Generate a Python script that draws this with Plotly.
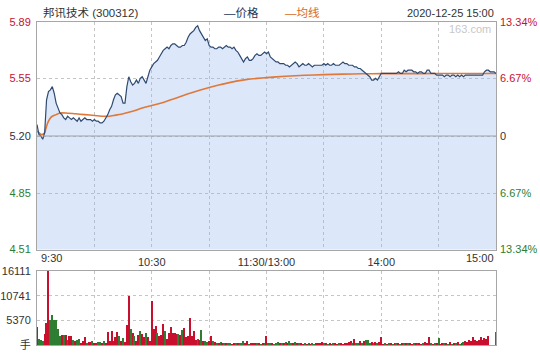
import plotly.graph_objects as go

# ---------------- data ----------------
STOCK_NAME = "邦讯技术"
STOCK_CODE = "300312"
DATE_TEXT = "2020-12-25 15:00"
PREV_CLOSE = 5.20

price_ticks = [4.51, 4.85, 5.20, 5.55, 5.89]
price_tick_text = ["4.51", "4.85", "5.20", "5.55", "5.89"]
pct_tick_text = ["13.34%", "6.67%", "0", "6.67%", "13.34%"]

vol_ticks = [0, 5370, 10741, 16111]
vol_tick_text = ["手", "5370", "10741", "16111"]

time_ticks = [0, 30, 60, 90, 120, 150, 180, 210, 240]
time_labels = ["9:30", "", "10:30", "", "11:30/13:00", "", "14:00", "", "15:00"]

# minute-by-minute price, 9:30..11:30 (121) + 13:01..15:00 (120)
price = [
    5.27, 5.21, 5.20, 5.18, 5.22, 5.42, 5.47, 5.48, 5.50, 5.46,
    5.40, 5.37, 5.34, 5.33, 5.31, 5.30, 5.32, 5.31, 5.30, 5.31,
    5.30, 5.29, 5.31, 5.29, 5.30, 5.31, 5.30, 5.30, 5.30, 5.29,
    5.30, 5.29, 5.29, 5.28, 5.28, 5.29, 5.31, 5.33, 5.36, 5.38,
    5.42, 5.45, 5.46, 5.45, 5.44, 5.40, 5.40, 5.50, 5.56, 5.53,
    5.51, 5.52, 5.54, 5.52, 5.55, 5.56, 5.54, 5.52, 5.56, 5.60,
    5.62, 5.64, 5.65, 5.66, 5.68, 5.70, 5.72, 5.73, 5.74, 5.73,
    5.75, 5.76, 5.76, 5.75, 5.74, 5.74, 5.75, 5.75, 5.77, 5.80,
    5.82, 5.83, 5.84, 5.86, 5.87, 5.84, 5.82, 5.80, 5.78, 5.79,
    5.75, 5.74, 5.74, 5.73, 5.73, 5.74, 5.74, 5.73, 5.74, 5.75,
    5.74, 5.74, 5.73, 5.74, 5.72, 5.71, 5.69, 5.67, 5.65, 5.67,
    5.68, 5.66, 5.66, 5.67, 5.69, 5.70, 5.69, 5.69, 5.70, 5.71, 5.70,
    5.71, 5.68, 5.67, 5.66, 5.65, 5.65, 5.64, 5.64, 5.64, 5.63,
    5.63, 5.62, 5.63, 5.64, 5.65, 5.64, 5.62, 5.63, 5.64, 5.63,
    5.63, 5.64, 5.63, 5.62, 5.63, 5.63, 5.63, 5.63, 5.63, 5.64,
    5.63, 5.64, 5.63, 5.63, 5.64, 5.63, 5.63, 5.63, 5.64, 5.65,
    5.64, 5.64, 5.63, 5.63, 5.63, 5.62, 5.62, 5.61, 5.61, 5.60,
    5.59, 5.58, 5.57, 5.56, 5.54, 5.54, 5.55, 5.54, 5.56, 5.58,
    5.58, 5.58, 5.58, 5.58, 5.58, 5.58, 5.58, 5.58, 5.59, 5.58,
    5.58, 5.60, 5.59, 5.60, 5.60, 5.60, 5.59, 5.59, 5.58, 5.59,
    5.59, 5.58, 5.58, 5.60, 5.60, 5.58, 5.58, 5.58, 5.57, 5.57,
    5.57, 5.57, 5.56, 5.57, 5.57, 5.56, 5.57, 5.57, 5.56, 5.57,
    5.56, 5.57, 5.56, 5.57, 5.57, 5.57, 5.57, 5.57, 5.57, 5.57,
    5.57, 5.57, 5.57, 5.59, 5.60, 5.60, 5.59, 5.59, 5.59, 5.58,
]

# average-price line, read at selected minutes
avg_minutes = [0, 1, 2, 3, 4, 5, 6, 7, 8, 10, 12, 15, 20, 25, 30, 35, 38, 40, 45,
               50, 55, 60, 65, 70, 75, 80, 85, 90, 95, 100, 105, 110, 115, 120,
               130, 140, 150, 160, 170, 180, 200, 220, 240]
avg_price = [5.23, 5.22, 5.21, 5.21, 5.22, 5.26, 5.29, 5.31, 5.32, 5.33, 5.34, 5.34,
             5.335, 5.33, 5.325, 5.32, 5.32, 5.325, 5.335, 5.35, 5.37, 5.385, 5.40,
             5.42, 5.44, 5.46, 5.478, 5.495, 5.51, 5.523, 5.535, 5.544, 5.55, 5.555,
             5.563, 5.569, 5.573, 5.576, 5.578, 5.579, 5.579, 5.58, 5.58]

# volume per minute (lots) and direction (1 = up/red, -1 = down/green)
volume = [
    4040, 1460, 1250, 900, 2500, 4880, 16111, 5570, 6620, 5440,
    5440, 3550, 2090, 2300, 2160, 2300, 1250, 2090, 2090, 1250,
    1050, 1250, 1460, 560, 1050, 1740, 490, 700, 700, 1050,
    560, 490, 700, 700, 560, 900, 420, 3000, 900, 3140,
    1050, 1740, 3000, 1950, 1050, 1600, 700, 4530, 10660, 3490,
    2650, 1950, 900, 2300, 3140, 2500, 1740, 2790, 1740, 1050,
    9620, 3550, 4180, 2650, 1950, 2300, 4740, 3140, 1460, 2650,
    3900, 2650, 2650, 2500, 2440, 2160, 3280, 3830, 1740, 1950,
    5920, 1950, 3140, 1250, 1460, 1250, 3350, 1050, 900, 770,
    1050, 1950, 1050, 770, 560, 420, 770, 560, 560, 420,
    560, 490, 350, 490, 490, 420, 560, 490, 1050, 490,
    1050, 350, 420, 420, 560, 490, 420, 350, 490, 420, 2090,
    490, 420, 560, 350, 490, 770, 490, 560, 420, 700,
    560, 1050, 490, 420, 700, 560, 490, 630, 350, 420,
    350, 420, 350, 420, 350, 490, 420, 560, 770, 420,
    560, 350, 420, 350, 420, 490, 350, 420, 490, 350,
    420, 560, 770, 1050, 560, 1460, 630, 490, 1050, 490,
    1050, 1250, 1180, 560, 770, 560, 770, 490, 770, 1810,
    350, 560, 350, 490, 420, 350, 490, 420, 490, 350,
    420, 490, 420, 560, 490, 350, 420, 490, 420, 560,
    350, 490, 770, 560, 1740, 420, 350, 490, 490, 1600,
    350, 420, 560, 490, 350, 770, 350, 560, 490, 700,
    350, 560, 770, 1050, 770, 1250, 1050, 1740, 1250, 1050,
    1250, 1740, 1250, 1600, 1460, 2000, 0, 0, 0, 3000,
]
vol_dir = [
    1, -1, -1, -1, 1, 1, 1, -1, -1, -1,
    -1, -1, -1, 1, -1, 1, -1, 1, 1, -1,
    1, -1, -1, 1, 1, 1, -1, 1, 1, -1,
    1, 1, -1, -1, 1, -1, 1, 1, 1, 1,
    1, 1, 1, -1, 1, -1, 1, 1, 1, -1,
    1, -1, 1, 1, -1, 1, 1, -1, 1, 1,
    1, 1, 1, -1, 1, 1, 1, -1, 1, 1,
    1, 1, 1, 1, -1, 1, -1, 1, 1, 1,
    1, 1, 1, 1, -1, 1, -1, 1, -1, -1,
    1, 1, -1, 1, -1, 1, -1, 1, -1, 1,
    -1, -1, 1, 1, -1, 1, -1, -1, -1, 1,
    1, -1, 1, 1, 1, -1, 1, -1, 1, -1, 1,
    -1, -1, 1, -1, -1, -1, 1, -1, 1, -1,
    1, -1, -1, 1, -1, 1, -1, 1, 1, -1,
    1, -1, 1, -1, -1, 1, 1, 1, 1, -1,
    1, -1, 1, 1, -1, 1, 1, -1, 1, 1,
    1, 1, 1, 1, -1, 1, -1, -1, 1, -1,
    1, -1, -1, -1, 1, -1, 1, -1, 1, 1,
    1, -1, 1, -1, 1, -1, 1, -1, 1, -1,
    1, -1, 1, -1, 1, 1, -1, 1, -1, 1,
    1, -1, 1, 1, 1, -1, 1, -1, 1, -1,
    1, 1, -1, 1, -1, 1, -1, 1, -1, 1,
    -1, 1, -1, 1, 1, 1, 1, 1, 1, 1,
    1, 1, 1, 1, 1, 1, 1, 1, 1, -1,
]

# ---------------- style ----------------
W, H = 540, 360
FONT = "Liberation Sans, Arial, Noto Sans CJK SC, sans-serif"
RED = "#c8102e"
GREEN = "#2e7d32"
GRAY_TXT = "#333333"
GRID = "#c4c4c4"
BORDER = "#a6a6a6"
PRICE_COLOR = "#2f4a70"
AVG_COLOR = "#e0783a"

PL, PR = 37, 496          # plot left/right px
MAIN_T, MAIN_B = 17, 252  # main plot top/bottom px
VOL_T, VOL_B = 274, 351   # volume plot top/bottom px

xdom = [PL / W, PR / W]
ydom_main = [1 - MAIN_B / H, 1 - MAIN_T / H]
ydom_vol = [1 - VOL_B / H, 1 - VOL_T / H]


def tick_color(v):
    if v > PREV_CLOSE + 1e-9:
        return RED
    if v < PREV_CLOSE - 1e-9:
        return GREEN
    return GRAY_TXT


left_text = [f"<span style='color:{tick_color(v)}'>{t}</span>" for v, t in zip(price_ticks, price_tick_text)]
right_text = [f"<span style='color:{tick_color(v)}'>{t}</span>" for v, t in zip(price_ticks, pct_tick_text)]

minutes = list(range(len(price)))
bar_colors = [RED if d > 0 else GREEN for d in vol_dir]

fig = go.Figure()

# fill under price
fig.add_trace(go.Scatter(
    x=minutes, y=price, mode="lines", line=dict(width=0, color=PRICE_COLOR),
    fill="tozeroy", fillcolor="rgba(150,185,240,0.33)",
    xaxis="x", yaxis="y", hoverinfo="skip", showlegend=False))

# average line
fig.add_trace(go.Scatter(
    x=avg_minutes, y=avg_price, mode="lines", line=dict(width=1.6, color=AVG_COLOR, shape="spline", smoothing=0.6),
    xaxis="x", yaxis="y2", showlegend=False))

# price line
fig.add_trace(go.Scatter(
    x=minutes, y=price, mode="lines", line=dict(width=1.2, color=PRICE_COLOR),
    xaxis="x", yaxis="y2", showlegend=False))

# volume bars
fig.add_trace(go.Bar(
    x=minutes, y=volume, marker=dict(color=bar_colors, line=dict(width=0)),
    width=0.6, xaxis="x2", yaxis="y3", showlegend=False))

axis_common = dict(showline=True, linecolor=BORDER, linewidth=1, mirror=True,
                   gridcolor=GRID, griddash="dot", gridwidth=1, zeroline=False,
                   ticks="", fixedrange=True)

fig.update_layout(
    width=W, height=H,
    margin=dict(l=0, r=0, t=0, b=0),
    paper_bgcolor="white", plot_bgcolor="white",
    font=dict(family=FONT, size=11, color=GRAY_TXT),
    showlegend=False,
    bargap=0,
    xaxis=dict(domain=xdom, anchor="y", range=[0, 240], tickvals=time_ticks,
               ticktext=["" if i in (0, len(time_ticks) - 1) else t for i, t in enumerate(time_labels)],
               showgrid=True, ticklabelstandoff=2, **axis_common),
    yaxis=dict(domain=ydom_main, anchor="x", range=[price_ticks[0], price_ticks[-1]],
               tickvals=price_ticks, ticktext=left_text, showgrid=True,
               ticklabelstandoff=3, **axis_common),
    yaxis2=dict(overlaying="y", side="right", anchor="x", range=[price_ticks[0], price_ticks[-1]],
                tickvals=price_ticks, ticktext=right_text, showgrid=False,
                showline=False, zeroline=False, ticks="", ticklabelstandoff=3),
    xaxis2=dict(domain=xdom, anchor="y3", range=[0, 240], matches="x", tickvals=time_ticks,
                showticklabels=False, showgrid=True, **axis_common),
    yaxis3=dict(domain=ydom_vol, anchor="x2", range=[0, vol_ticks[-1]], tickvals=vol_ticks,
                ticktext=vol_tick_text, showgrid=True, ticklabelstandoff=3, **axis_common),
)

# previous-close reference line
fig.add_shape(type="line", xref="x", yref="y", x0=0, x1=240, y0=PREV_CLOSE, y1=PREV_CLOSE,
              line=dict(color="#a0a0a0", width=1), layer="above")

ann = []
ann.append(dict(text=f"{STOCK_NAME} ({STOCK_CODE})", x=41 / W, y=1 - 7 / H, xref="paper", yref="paper",
                xanchor="left", yanchor="middle", showarrow=False, font=dict(size=11.5, color=GRAY_TXT)))
ann.append(dict(text="—价格", x=222 / W, y=1 - 7 / H, xref="paper", yref="paper",
                xanchor="left", yanchor="middle", showarrow=False, font=dict(size=11.5, color="#1e3556")))
ann.append(dict(text="—均线", x=283 / W, y=1 - 7 / H, xref="paper", yref="paper",
                xanchor="left", yanchor="middle", showarrow=False, font=dict(size=11.5, color="#d86a1e")))
ann.append(dict(text=DATE_TEXT, x=PR / W, y=1 - 7 / H, xref="paper", yref="paper",
                xanchor="right", yanchor="middle", showarrow=False, font=dict(size=11, color=GRAY_TXT)))
ann.append(dict(text="163.com", x=(PR - 3) / W, y=1 - 24 / H, xref="paper", yref="paper",
                xanchor="right", yanchor="middle", showarrow=False, font=dict(size=11, color="#c8c8c8")))
ann.append(dict(text=time_labels[0], x=time_ticks[0], y=1 - 261 / H, xref="x", yref="paper",
                xanchor="left", yanchor="middle", showarrow=False, xshift=2, font=dict(size=11, color=GRAY_TXT)))
ann.append(dict(text=time_labels[-1], x=time_ticks[-1], y=1 - 261 / H, xref="x", yref="paper",
                xanchor="right", yanchor="middle", showarrow=False, font=dict(size=11, color=GRAY_TXT)))
fig.update_layout(annotations=ann)

fig.write_html("out.html")
